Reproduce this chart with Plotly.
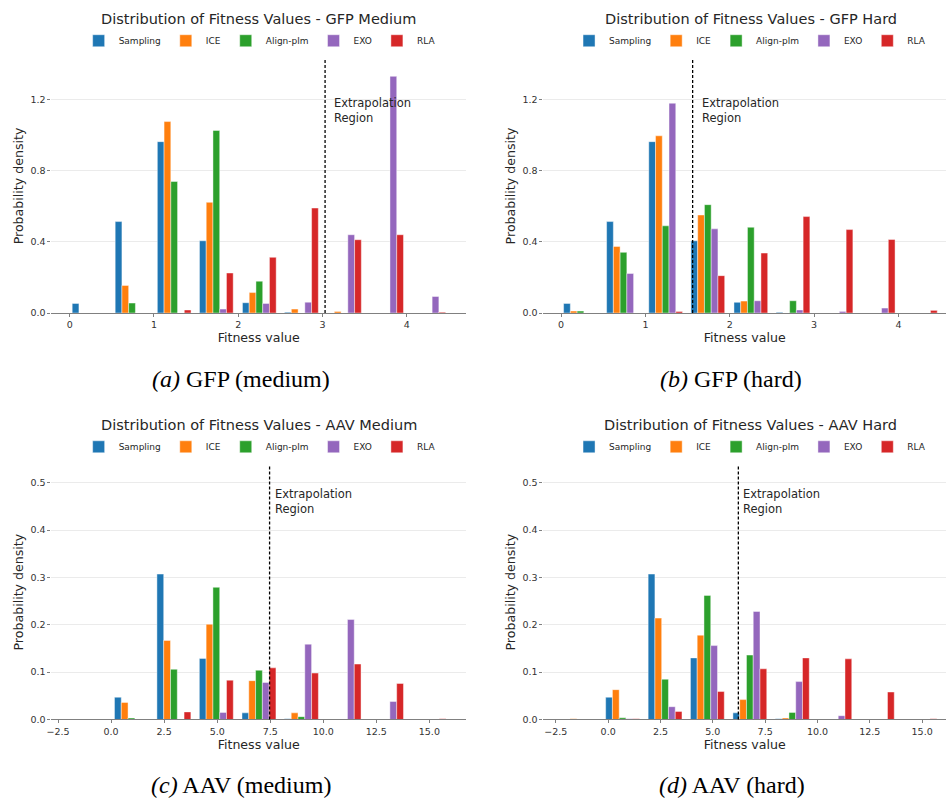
import plotly.graph_objects as go

methods = ["Sampling", "ICE", "Align-plm", "EXO", "RLA"]
colors = ["#1f77b4", "#ff7f0e", "#2ca02c", "#9467bd", "#d62728"]

# ---- GFP Medium ----
gfp_med_bins = [0.23, 0.74, 1.24, 1.74, 2.25, 2.75, 3.26, 3.76, 4.26]
gfp_med_sampling = [0.054, 0.514, 0.963, 0.406, 0.058, 0.005, 0, 0, 0]
gfp_med_ice = [0, 0.155, 1.076, 0.622, 0.115, 0.022, 0.009, 0, 0]
gfp_med_align = [0, 0.056, 0.739, 1.026, 0.179, 0, 0, 0, 0]
gfp_med_exo = [0, 0, 0, 0.022, 0.054, 0.061, 0.440, 1.330, 0.093]
gfp_med_rla = [0, 0, 0.017, 0.225, 0.313, 0.590, 0.412, 0.440, 0.005]
gfp_med_threshold = 3.03

# ---- GFP Hard ----
gfp_hard_bins = [0.23, 0.74, 1.24, 1.74, 2.25, 2.75, 3.26, 3.76, 4.26]
gfp_hard_sampling = [0.054, 0.514, 0.963, 0.406, 0.060, 0.004, 0, 0, 0]
gfp_hard_ice = [0.011, 0.374, 0.996, 0.551, 0.067, 0, 0, 0, 0]
gfp_hard_align = [0.011, 0.341, 0.490, 0.609, 0.482, 0.069, 0, 0, 0]
gfp_hard_exo = [0, 0.222, 1.179, 0.473, 0.069, 0.017, 0.009, 0.028, 0]
gfp_hard_rla = [0, 0, 0.009, 0.210, 0.337, 0.542, 0.469, 0.413, 0.015]
gfp_hard_threshold = 1.56

# ---- AAV Medium ----
aav_med_bins = [-1.05, 0.96, 2.96, 4.96, 6.97, 8.97, 10.98, 12.98, 14.99]
aav_med_sampling = [0, 0.047, 0.307, 0.129, 0.014, 0.0015, 0, 0, 0]
aav_med_ice = [0, 0.036, 0.167, 0.201, 0.082, 0.014, 0, 0, 0]
aav_med_align = [0, 0.003, 0.106, 0.279, 0.104, 0.006, 0, 0, 0]
aav_med_exo = [0, 0, 0, 0.015, 0.078, 0.159, 0.211, 0.038, 0]
aav_med_rla = [0, 0, 0.016, 0.083, 0.109, 0.098, 0.117, 0.076, 0.0015]
aav_med_threshold = 7.47

# ---- AAV Hard ----
aav_hard_bins = [-1.34, 0.69, 2.72, 4.74, 6.77, 8.80, 10.83, 12.86, 14.89]
aav_hard_sampling = [0, 0.047, 0.307, 0.130, 0.014, 0.0015, 0, 0, 0]
aav_hard_ice = [0.0015, 0.063, 0.214, 0.178, 0.042, 0.003, 0, 0, 0]
aav_hard_align = [0, 0.0035, 0.085, 0.262, 0.136, 0.015, 0, 0, 0]
aav_hard_exo = [0, 0.0015, 0.027, 0.156, 0.228, 0.080, 0.008, 0, 0]
aav_hard_rla = [0, 0.0015, 0.017, 0.059, 0.107, 0.130, 0.128, 0.058, 0.0015]
aav_hard_threshold = 6.22

panel_titles = [
    "Distribution of Fitness Values - GFP Medium",
    "Distribution of Fitness Values - GFP Hard",
    "Distribution of Fitness Values - AAV Medium",
    "Distribution of Fitness Values - AAV Hard",
]
captions = ["<i>(a)</i> GFP (medium)", "<i>(b)</i> GFP (hard)",
            "<i>(c)</i> AAV (medium)", "<i>(d)</i> AAV (hard)"]

panels = [
    dict(bins=gfp_med_bins, series=[gfp_med_sampling, gfp_med_ice, gfp_med_align, gfp_med_exo, gfp_med_rla],
         thr=gfp_med_threshold, xr=[-0.216, 4.70], yr=[0, 1.428], ytick=[0, 0.4, 0.8, 1.2], ytf=".1f",
         xtick=[0, 1, 2, 3, 4], xtf="d", txt_y=1.23, shift=7),
    dict(bins=gfp_hard_bins, series=[gfp_hard_sampling, gfp_hard_ice, gfp_hard_align, gfp_hard_exo, gfp_hard_rla],
         thr=gfp_hard_threshold, xr=[-0.209, 4.564], yr=[0, 1.428], ytick=[0, 0.4, 0.8, 1.2], ytf=".1f",
         xtick=[0, 1, 2, 3, 4], xtf="d", txt_y=1.23, shift=7),
    dict(bins=aav_med_bins, series=[aav_med_sampling, aav_med_ice, aav_med_align, aav_med_exo, aav_med_rla],
         thr=aav_med_threshold, xr=[-2.81, 16.72], yr=[0, 0.5377], ytick=[0, 0.1, 0.2, 0.3, 0.4, 0.5], ytf=".1f",
         xtick=[-2.5, 0, 2.5, 5, 7.5, 10, 12.5, 15], xtf=".1f", txt_y=0.495, shift=3),
    dict(bins=aav_hard_bins, series=[aav_hard_sampling, aav_hard_ice, aav_hard_align, aav_hard_exo, aav_hard_rla],
         thr=aav_hard_threshold, xr=[-3.09, 16.14], yr=[0, 0.5377], ytick=[0, 0.1, 0.2, 0.3, 0.4, 0.5], ytf=".1f",
         xtick=[-2.5, 0, 2.5, 5, 7.5, 10, 12.5, 15], xtf=".1f", txt_y=0.495, shift=3),
]

W, H = 946, 802
x_domains = [[46.7 / W, 463.3 / W], [541.3 / W, 1.0], [46.7 / W, 463.3 / W], [541.3 / W, 1.0]]
y_domains = [[(H - 315) / H, (H - 59.3) / H], [(H - 315) / H, (H - 59.3) / H],
             [(H - 724) / H, (H - 467.7) / H], [(H - 724) / H, (H - 467.7) / H]]
title_y_px = [19, 19, 427.7, 427.7]
legend_y_px = [41, 41, 449.6, 449.6]
legend_x_px = [256, 749, 256, 749]
caption_x_px = [237, 730, 237.5, 730.5]
caption_y_px = [381.7, 381.7, 790, 790]

FONT = "DejaVu Sans"
TXT = "#262626"
fig = go.Figure()
layout = dict(width=W, height=H, margin=dict(l=0, r=0, t=0, b=0),
              paper_bgcolor="white", plot_bgcolor="white",
              barmode="group", bargap=0.2, bargroupgap=0,
              font=dict(family=FONT, color=TXT), showlegend=True)
annotations = []
shapes = []

for i, p in enumerate(panels):
    k = "" if i == 0 else str(i + 1)
    leg = "legend" if i == 0 else f"legend{i + 1}"
    for m, c, vals in zip(methods, colors, p["series"]):
        fig.add_trace(go.Bar(x=p["bins"], y=vals, name=m, marker_color=c,
                             marker_line=dict(color="rgba(255,255,255,0.55)", width=0.8),
                             xaxis="x" + k, yaxis="y" + k, legend=leg))
    layout["xaxis" + k] = dict(domain=x_domains[i], range=p["xr"], anchor="y" + k,
                               tickvals=p["xtick"], tickformat=p["xtf"],
                               showline=True, linecolor="#808080", linewidth=1,
                               ticks="outside", ticklen=3, tickcolor="#808080",
                               showgrid=False, zeroline=False,
                               tickfont=dict(size=9.5, color="#333333"),
                               title=dict(text="Fitness value", font=dict(size=12.6, color=TXT), standoff=3))
    layout["yaxis" + k] = dict(domain=y_domains[i], range=p["yr"], anchor="x" + k,
                               tickvals=p["ytick"], tickformat=p["ytf"],
                               showline=False, ticks="outside", ticklen=3, tickcolor="#808080",
                               showgrid=True, gridcolor="#ebebeb", gridwidth=1, zeroline=False,
                               tickfont=dict(size=9.5, color="#333333"),
                               title=dict(text="Probability density", font=dict(size=12.6, color=TXT), standoff=4))
    layout[leg] = dict(orientation="h", x=legend_x_px[i] / W, xanchor="center",
                       y=(H - legend_y_px[i]) / H, yanchor="middle",
                       font=dict(size=9, color=TXT), bgcolor="rgba(0,0,0,0)",
                       itemwidth=30, tracegroupgap=0)
    xc = (x_domains[i][0] + x_domains[i][1]) / 2 if i % 2 == 0 else (541.3 + 416.6 / 2) / W
    annotations.append(dict(text=panel_titles[i], xref="paper", yref="paper",
                            x=xc, y=(H - title_y_px[i]) / H, xanchor="center", yanchor="middle",
                            showarrow=False, font=dict(size=14.5, color=TXT, family=FONT)))
    annotations.append(dict(text=captions[i], xref="paper", yref="paper",
                            x=caption_x_px[i] / W, y=(H - caption_y_px[i]) / H,
                            xanchor="center", yanchor="middle", showarrow=False,
                            font=dict(size=24, color="black", family="Liberation Serif")))
    annotations.append(dict(text="Extrapolation<br>Region", xref="x" + k, yref="y" + k,
                            x=p["thr"], y=p["txt_y"], xanchor="left", yanchor="top",
                            xshift=p["shift"], align="left", showarrow=False,
                            font=dict(size=11.5, color=TXT, family=FONT)))
    shapes.append(dict(type="line", xref="x" + k, yref=f"y{k} domain",
                       x0=p["thr"], x1=p["thr"], y0=0, y1=1,
                       line=dict(color="black", width=1.3, dash="3px,2px")))

layout["annotations"] = annotations
layout["shapes"] = shapes
fig.update_layout(**layout)
fig.write_html("out.html")
